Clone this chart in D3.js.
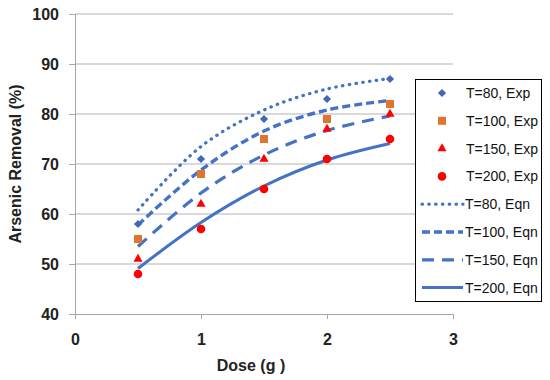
<!doctype html>
<head>
  <style>
    body {
      margin: 0;
      background: #fff;
      font-family: "Liberation Sans", Arial, sans-serif;
    }
    .tick text {
      font-weight: bold;
      font-size: 16px;
      fill: #222;
    }
  </style>
<script src="https://cdnjs.cloudflare.com/ajax/libs/d3/7.8.5/d3.min.js"></script>
</head>
<body>
<script>

// dose values and measured / fitted removal
var doses = [0.5, 1, 1.5, 2, 2.5];
var temps = ["80", "100", "150", "200"];
var exp80 = [58, 71, 79, 83, 87];
var exp100 = [55, 68, 75, 79, 82];
var exp150 = [51, 62, 71, 77, 80];
var exp200 = [48, 57, 65, 71, 75];
var eqn80 = [60.8, 73.5, 80.8, 85, 87.1];
var eqn100 = [57.8, 68.8, 76.6, 80.8, 82.7];
var eqn150 = [53.5, 64.2, 71.8, 76.7, 79.6];
var eqn200 = [49.1, 58.3, 65.6, 70.8, 74.1];
var xTicks = [0, 1, 2, 3];
var yTicks = [40, 50, 60, 70, 80, 90, 100];

var width = 550, height = 380;
var plotLeft = 75, plotRight = 453, plotTop = 14, plotBottom = 314;

var svg = d3.select("body").append("svg")
  .attr("width", width)
  .attr("height", height);

var x = d3.scaleLinear().domain([0, 3]).range([plotLeft, plotRight]);
var y = d3.scaleLinear().domain([40, 100]).range([plotBottom, plotTop]);

// gridlines
svg.append("g").selectAll("line")
  .data(yTicks.slice(1))
  .enter().append("line")
    .attr("x1", plotLeft)
    .attr("x2", plotRight)
    .attr("y1", function(d) { return y(d); })
    .attr("y2", function(d) { return y(d); })
    .attr("stroke", "#b3b3b3")
    .attr("stroke-width", 1);

var yAxis = svg.append("g")
  .attr("transform", "translate(" + plotLeft + ",0)")
  .call(d3.axisLeft(y).tickValues(yTicks).tickSize(6).tickPadding(10).tickFormat(d3.format("d")));
var xAxis = svg.append("g")
  .attr("transform", "translate(0," + plotBottom + ")")
  .call(d3.axisBottom(x).tickValues(xTicks).tickSize(5).tickPadding(12).tickFormat(d3.format("d")));
svg.selectAll(".domain").attr("stroke", "#a6a6a6");
svg.selectAll(".tick line").attr("stroke", "#a6a6a6");
xAxis.selectAll(".tick text").attr("dy", "0.9em");

svg.append("text")
  .attr("x", x(1.5) - 13)
  .attr("y", 371)
  .attr("text-anchor", "middle")
  .style("font-weight", "bold")
  .style("font-size", "16px")
  .attr("fill", "#222")
  .text("Dose (g )");

svg.append("text")
  .attr("transform", "translate(21,164) rotate(-90)")
  .attr("text-anchor", "middle")
  .style("font-weight", "bold")
  .style("font-size", "16px")
  .attr("fill", "#222")
  .text("Arsenic Removal (%)");

var blue = "#4472c4";
var lineStyles = [
  {dash: "0.5 6.3", cap: "round", w: 3.2},
  {dash: "8 4", cap: "butt", w: 3.4},
  {dash: "12 8", cap: "butt", w: 3.2},
  {dash: null, cap: "butt", w: 3}
];
var eqns = [eqn80, eqn100, eqn150, eqn200];
var exps = [exp80, exp100, exp150, exp200];

var line = d3.line()
  .x(function(d) { return x(d[0]); })
  .y(function(d) { return y(d[1]); })
  .curve(d3.curveCatmullRom.alpha(0.5));

eqns.forEach(function(vals, i) {
  var pts = doses.map(function(d, j) { return [d, vals[j]]; });
  svg.append("path")
    .datum(pts)
    .attr("d", line)
    .attr("fill", "none")
    .attr("stroke", blue)
    .attr("stroke-width", lineStyles[i].w)
    .attr("stroke-linecap", lineStyles[i].cap)
    .attr("stroke-dasharray", lineStyles[i].dash);
});

function marker(g, i) {
  if (i == 0) {
    g.append("path")
      .attr("d", d3.symbol().type(d3.symbolSquare).size(34)())
      .attr("transform", "rotate(45)")
      .attr("fill", "#4068b8");
  } else if (i == 1) {
    g.append("path")
      .attr("d", d3.symbol().type(d3.symbolSquare).size(64)())
      .attr("fill", "#df762f");
  } else if (i == 2) {
    g.append("path")
      .attr("d", d3.symbol().type(d3.symbolTriangle).size(36)())
      .attr("fill", "#ff0000");
  } else {
    g.append("circle")
      .attr("r", 4.3)
      .attr("fill", "#ff0000");
  }
}

exps.forEach(function(vals, i) {
  doses.forEach(function(d, j) {
    var g = svg.append("g")
      .attr("transform", "translate(" + x(d) + "," + y(vals[j]) + ")");
    marker(g, i);
  });
});

// legend
var legend = svg.append("g");
legend.append("rect")
  .attr("x", 415.5)
  .attr("y", 79.5)
  .attr("width", 126)
  .attr("height", 222)
  .attr("fill", "#fff")
  .attr("stroke", "#000")
  .attr("stroke-width", 1);

var rowY = d3.range(8).map(function(i) { return 93 + i * 27.8; });

temps.forEach(function(t, i) {
  var g = legend.append("g").attr("transform", "translate(442," + rowY[i] + ")");
  marker(g, i);
  legend.append("text")
    .attr("x", 466)
    .attr("y", rowY[i])
    .attr("dy", "0.35em")
    .style("font-size", "14px")
    .attr("fill", "#111")
    .text("T=" + t + ", Exp");
});

temps.forEach(function(t, i) {
  var ry = rowY[i + 4];
  legend.append("line")
    .attr("x1", 422)
    .attr("x2", 463)
    .attr("y1", ry)
    .attr("y2", ry)
    .attr("stroke", blue)
    .attr("stroke-width", lineStyles[i].w)
    .attr("stroke-linecap", lineStyles[i].cap)
    .attr("stroke-dasharray", lineStyles[i].dash);
  legend.append("text")
    .attr("x", 465)
    .attr("y", ry)
    .attr("dy", "0.35em")
    .style("font-size", "14px")
    .attr("fill", "#111")
    .text("T=" + t + ", Eqn");
});

</script>
</body>
